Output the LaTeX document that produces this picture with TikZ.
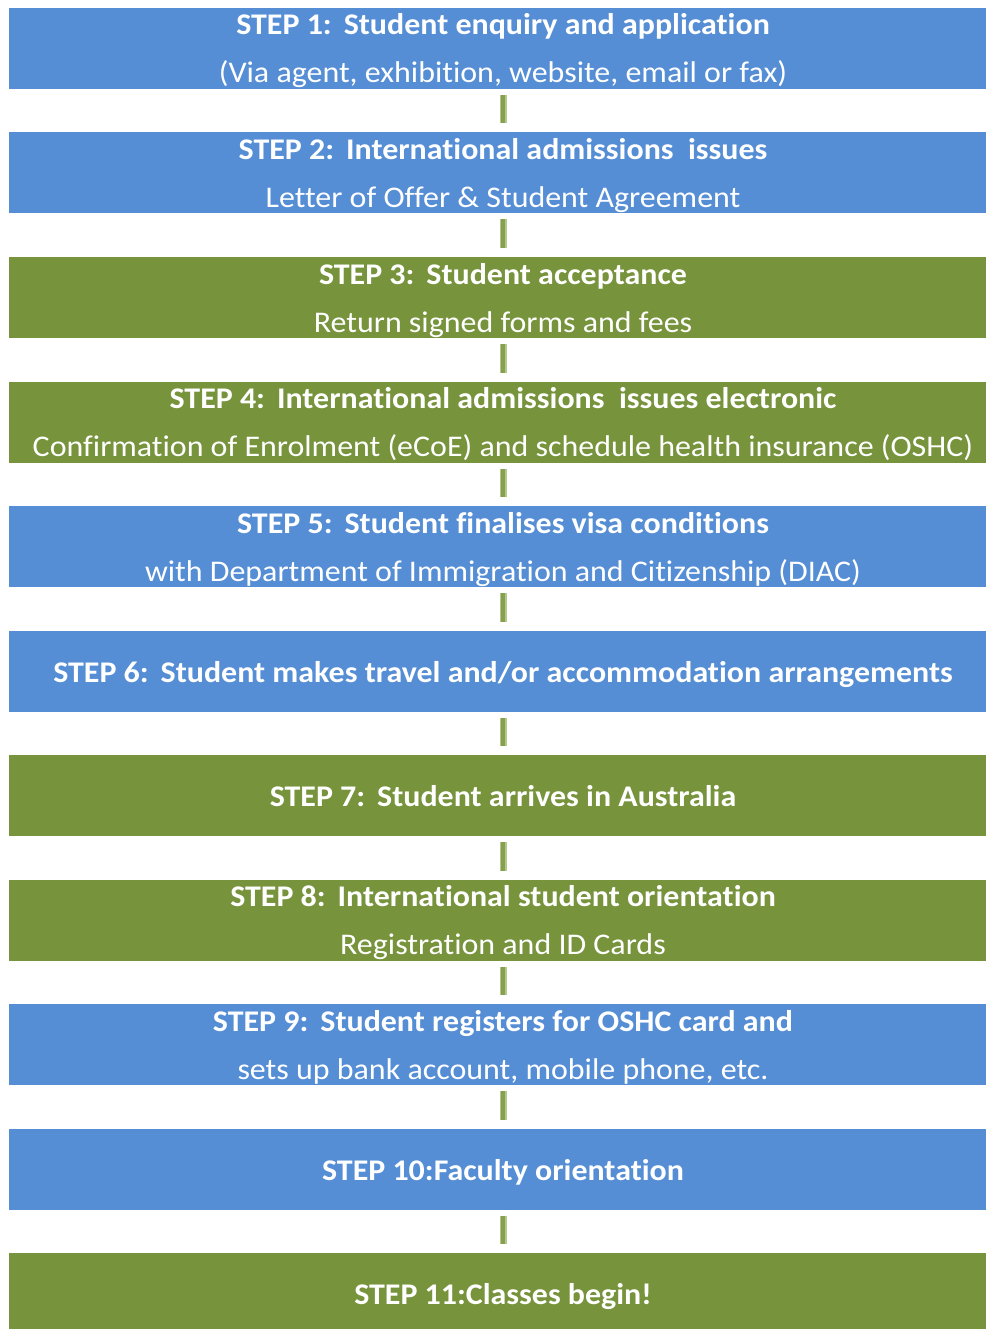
\documentclass[tikz,border=0pt]{standalone}
\usepackage{fontspec}
\setmainfont{Carlito}[FakeStretch=1.065, Ligatures=NoCommon]
\definecolor{sblue}{HTML}{558ED5}
\definecolor{sgreen}{HTML}{77933C}
\definecolor{cdark}{HTML}{86A050}
\definecolor{clight}{HTML}{B4C78F}
\newcommand\stgap{\hspace*{12pt}}
\begin{document}
\begin{tikzpicture}[x=1pt,y=-1pt,
  box/.style={fill=#1, minimum width=988pt, minimum height=81pt, inner sep=0pt, outer sep=0pt, anchor=north west, draw=none},
  ttl/.style={text=white, font=\fontsize{30}{36}\selectfont\bfseries, anchor=base, inner sep=0pt},
  sub/.style={text=white, font=\fontsize{30}{36}\selectfont, anchor=base, inner sep=0pt},
  link/.style={draw=clight, double=cdark, double distance=4pt, line width=1.5pt}]
\useasboundingbox (0,0) rectangle (985,1329);
\node[box=sblue]  (s1)  at (9,8) {};
\node[box=sblue]  (s2)  at (9,132.5) {};
\node[box=sgreen] (s3)  at (9,257) {};
\node[box=sgreen] (s4)  at (9,381.5) {};
\node[box=sblue]  (s5)  at (9,506) {};
\node[box=sblue]  (s6)  at (9,630.5) {};
\node[box=sgreen] (s7)  at (9,755) {};
\node[box=sgreen] (s8)  at (9,879.5) {};
\node[box=sblue]  (s9)  at (9,1004) {};
\node[box=sblue]  (s10) at (9,1128.5) {};
\node[box=sgreen] (s11) at (9,1253) {};
% two-line boxes
\node[ttl] (t1)  at ([yshift=-27pt]s1.north) {STEP 1:\stgap Student enquiry and application};
\node[sub] (u1)  at ([yshift=-75pt]s1.north) {(Via agent, exhibition, website, email or fax)};
\node[ttl] (t2)  at ([yshift=-27pt]s2.north) {STEP 2:\stgap International admissions\ \ issues};
\node[sub] (u2)  at ([yshift=-75pt]s2.north) {Letter of Offer \& Student Agreement};
\node[ttl] (t3)  at ([yshift=-27pt]s3.north) {STEP 3:\stgap Student acceptance};
\node[sub] (u3)  at ([yshift=-75pt]s3.north) {Return signed forms and fees};
\node[ttl] (t4)  at ([yshift=-27pt]s4.north) {STEP 4:\stgap International admissions\ \ issues electronic};
\node[sub] (u4)  at ([yshift=-75pt]s4.north) {Confirmation of Enrolment (eCoE) and schedule health insurance (OSHC)};
\node[ttl] (t5)  at ([yshift=-27pt]s5.north) {STEP 5:\stgap Student finalises visa conditions};
\node[sub] (u5)  at ([yshift=-75pt]s5.north) {with Department of Immigration and Citizenship (DIAC)};
\node[ttl] (t6)  at ([yshift=-51.5pt]s6.north) {STEP 6:\stgap Student makes travel and/or accommodation arrangements};
\node[ttl] (t7)  at ([yshift=-51.5pt]s7.north) {STEP 7:\stgap Student arrives in Australia};
\node[ttl] (t8)  at ([yshift=-27pt]s8.north) {STEP 8:\stgap International student orientation};
\node[sub] (u8)  at ([yshift=-75pt]s8.north) {Registration and ID Cards};
\node[ttl] (t9)  at ([yshift=-27pt]s9.north) {STEP 9:\stgap Student registers for OSHC card and};
\node[sub] (u9)  at ([yshift=-75pt]s9.north) {sets up bank account, mobile phone, etc.};
\node[ttl] (t10) at ([yshift=-51.5pt]s10.north) {STEP 10:Faculty orientation};
\node[ttl] (t11) at ([yshift=-51.5pt]s11.north) {STEP 11:Classes begin!};
% connectors
\foreach \a/\b in {s1/s2,s2/s3,s3/s4,s4/s5,s5/s6,s6/s7,s7/s8,s8/s9,s9/s10,s10/s11}
  \draw[link] ([yshift=-6pt]\a.south) -- ([yshift=9pt]\b.north);
\end{tikzpicture}
\end{document}
